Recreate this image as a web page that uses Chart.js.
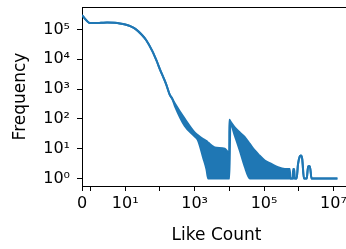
<!DOCTYPE html>
<html>
<head>
<meta charset="utf-8">
<script src="https://cdn.jsdelivr.net/npm/chart.js@4.4.1/dist/chart.umd.min.js"></script>
<style>
  html, body { margin: 0; padding: 0; overflow: hidden; background: #fff; }
  #wrap { width: 352px; height: 249px; }
</style>
</head>
<body>
<div id="wrap"><canvas id="likesChart" width="352" height="249"></canvas></div>
<script>
// --- Data ---
// like counts where the curve was sampled
const likeCounts = [0, 1, 2, 3, 5, 7, 10, 15, 20, 30, 40, 60, 80, 100, 150, 190, 225,
  270, 520, 1000, 1250, 1760, 2200, 2450, 3800, 7400, 9300, 9900,
  10000, 10700, 14300, 20000, 27500, 39000, 54000, 74000, 105000, 162000, 251000, 398000, 550000,
  575000, 660000, 690000, 740000, 780000, 870000, 950000, 1070000, 1150000, 1260000, 1410000,
  1700000, 1860000, 2090000, 2340000, 13000000];
// top of the noisy band (equals the line where there is no band)
const freqUpper = [295000, 162000, 166000, 170000, 166000, 158000, 145000, 123000, 102000, 66000, 44000, 19000, 8900, 4600, 1500, 660, 480,
  330, 100, 35, 28, 21, 18, 16, 11, 10, 7.6, 7.5,
  93, 83, 52, 35, 25, 14.5, 8.7, 5.9, 4.0, 3.1, 2.4, 2.1, 2.1,
  1, 1, 2.1, 2.1, 1, 1, 3.0, 5.5, 5.9, 4.5, 1,
  1, 2.6, 2.6, 1, 1];
// bottom of the noisy band
const freqLower = [295000, 162000, 166000, 170000, 166000, 158000, 145000, 123000, 102000, 66000, 44000, 19000, 8900, 4600, 1500, 660, 480,
  270, 58, 26, 19, 5, 2, 1, 1, 1, 1, 1,
  1, 68, 28, 8.7, 2.6, 1, 1, 1, 1, 1, 1, 1, 1,
  1, 1, 1, 1, 1, 1, 3.0, 5.5, 5.9, 4.5, 1,
  1, 2.6, 2.6, 1, 1];

const xTickValues = [0, 1, 10, 100, 1e3, 1e4, 1e5, 1e6, 1e7];
const xTickLabels = ['0', '', '10¹', '', '10³', '', '10⁵', '', '10⁷'];
const yTickValues = [1, 10, 100, 1e3, 1e4, 1e5];
const yTickLabels = ['10⁰', '10¹', '10²', '10³', '10⁴', '10⁵'];

const C0 = '#1f77b4';
const TICK_FONT = { family: 'DejaVu Sans', size: 16 };
const TITLE_FONT = { family: 'DejaVu Sans', size: 17 };

// --- symlog x scale: linear between 0 and 1, log10 above ---
const LIN_SPAN = 0.245;
const symlog = v => (v <= 1 ? v * LIN_SPAN : LIN_SPAN + Math.log10(v));

class SymlogScale extends Chart.LinearScale {
  static id = 'symlog';
  static defaults = {};

  buildTicks() {
    return xTickValues.map(value => ({ value }));
  }
  configure() {
    super.configure();
    this._tLo = symlog(this.min);
    this._tHi = symlog(this.max);
  }
  getPixelForValue(value) {
    if (value === null || value === undefined) return NaN;
    return this.getPixelForDecimal((symlog(value) - this._tLo) / (this._tHi - this._tLo));
  }
  getValueForPixel(pixel) {
    const t = this._tLo + this.getDecimalForPixel(pixel) * (this._tHi - this._tLo);
    return t <= LIN_SPAN ? t / LIN_SPAN : Math.pow(10, t - LIN_SPAN);
  }
}
Chart.register(SymlogScale);

// fixed axis sizes, no extra label padding
const fixSize = (w, h) => s => {
  if (w) s.width = w;
  if (h) s.height = h;
  s.paddingTop = s.paddingBottom = s.paddingLeft = s.paddingRight = 0;
};

// top and right spines
const frameSpines = {
  id: 'frameSpines',
  afterDatasetsDraw(chart) {
    const { ctx, chartArea: a } = chart;
    ctx.save();
    ctx.strokeStyle = '#000';
    ctx.lineWidth = 1;
    ctx.beginPath();
    ctx.moveTo(a.left, a.top + 0.5);
    ctx.lineTo(a.right - 0.5, a.top + 0.5);
    ctx.lineTo(a.right - 0.5, a.bottom);
    ctx.stroke();
    ctx.restore();
  }
};

const ctx = document.getElementById('likesChart').getContext('2d');
new Chart(ctx, {
  type: 'line',
  data: {
    datasets: [
      {
        data: likeCounts.map((x, i) => ({ x, y: freqUpper[i] })),
        borderColor: C0,
        backgroundColor: C0,
        fill: '+1'
      },
      {
        data: likeCounts.map((x, i) => ({ x, y: freqLower[i] })),
        borderColor: C0,
        fill: false
      }
    ]
  },
  options: {
    responsive: false,
    animation: false,
    devicePixelRatio: 1,
    layout: { padding: { top: 7, right: 1, bottom: 0, left: 0 }, autoPadding: false },
    elements: {
      point: { radius: 0 },
      line: { borderWidth: 2, cubicInterpolationMode: 'monotone' }
    },
    plugins: { legend: { display: false }, tooltip: { enabled: false } },
    scales: {
      x: {
        type: 'symlog',
        min: 0,
        max: 3.2e7,
        grid: { drawOnChartArea: false, drawTicks: true, tickLength: 5, color: '#000', lineWidth: 1 },
        border: { display: true, color: '#000', width: 1 },
        ticks: {
          autoSkip: false, maxRotation: 0, padding: 3, color: '#000', font: TICK_FONT,
          callback: v => xTickLabels[xTickValues.indexOf(v)]
        },
        title: { display: true, text: 'Like Count', color: '#000', font: TITLE_FONT, padding: { top: 0, bottom: 3 } },
        afterFit: fixSize(0, 63)
      },
      y: {
        type: 'logarithmic',
        min: Math.pow(10, -0.25),
        max: Math.pow(10, 5.75),
        afterBuildTicks: s => { s.ticks = yTickValues.map(value => ({ value })); },
        grid: { drawOnChartArea: false, drawTicks: true, tickLength: 5, color: '#000', lineWidth: 1 },
        border: { display: true, color: '#000', width: 1 },
        ticks: {
          autoSkip: false, padding: 7, color: '#000', font: TICK_FONT,
          callback: v => yTickLabels[yTickValues.indexOf(v)]
        },
        title: { display: true, text: 'Frequency', color: '#000', font: TITLE_FONT, padding: { top: 10, bottom: 0 } },
        afterFit: fixSize(82, 0)
      }
    }
  },
  plugins: [frameSpines]
});
</script>
</body>
</html>
